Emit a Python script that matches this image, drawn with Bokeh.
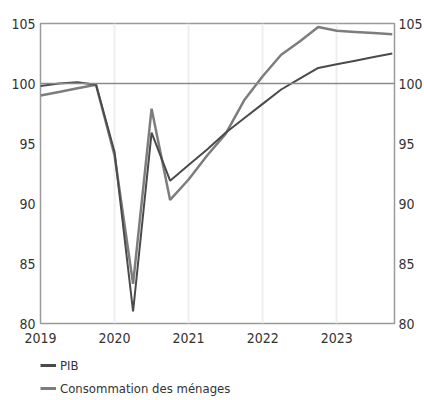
from bokeh.plotting import figure
from bokeh.layouts import column
from bokeh.models import LinearAxis, Span, Legend, LegendItem, FixedTicker, Range1d
from bokeh.embed import file_html
from bokeh.resources import INLINE

quarters = [2019.0, 2019.25, 2019.5, 2019.75, 2020.0, 2020.25, 2020.5, 2020.75,
            2021.0, 2021.25, 2021.5, 2021.75, 2022.0, 2022.25, 2022.5, 2022.75,
            2023.0, 2023.25, 2023.5, 2023.75]
pib = [99.8, 100.0, 100.1, 99.9, 94.3, 81.0, 95.9, 91.9, 93.2, 94.5,
       95.9, 97.1, 98.3, 99.5, 100.4, 101.3, 101.6, 101.9, 102.2, 102.5]
conso = [99.0, 99.3, 99.6, 99.9, 94.0, 83.3, 97.9, 90.3, 92.0, 94.0,
         95.8, 98.6, 100.6, 102.4, 103.5, 104.7, 104.4, 104.3, 104.2, 104.1]
year_ticks = [2019, 2020, 2021, 2022, 2023]
y_ticks = [80, 85, 90, 95, 100, 105]
labels = ["PIB", "Consommation des ménages"]

FONT = "DejaVu Sans Condensed"
PIB_COLOR, PIB_W = "#4a4a4a", 2
CONSO_COLOR, CONSO_W = "#7d7d7d", 2.5

p = figure(frame_width=354, frame_height=300, output_backend="svg", toolbar_location=None,
           x_range=Range1d(2019.0, 2023.78), y_range=Range1d(80, 105),
           min_border_left=40, min_border_right=30, min_border_top=23,
           min_border_bottom=25)

p.background_fill_color = "white"
p.outline_line_color = "#9a9a9a"
p.outline_line_width = 1.5

p.xgrid.grid_line_color = "#eeeeee"
p.xgrid.grid_line_width = 2
p.ygrid.grid_line_color = None

p.xaxis.ticker = FixedTicker(ticks=year_ticks)
p.yaxis.ticker = FixedTicker(ticks=y_ticks)

ry = LinearAxis(ticker=FixedTicker(ticks=y_ticks))
p.add_layout(ry, "right")

for ax in [p.xaxis[0], p.yaxis[0], ry]:
    ax.axis_line_color = None
    ax.major_tick_line_color = None
    ax.minor_tick_line_color = None
    ax.major_tick_out = 0
    ax.major_tick_in = 0
    ax.minor_tick_out = 0
    ax.major_label_text_font = FONT
    ax.major_label_text_font_size = "14px"
    ax.major_label_text_color = "#333333"
p.xaxis.major_label_standoff = 9
p.yaxis.major_label_standoff = 5
ry.major_label_standoff = 4

p.add_layout(Span(location=100, dimension="width", line_color="#8a8a8a", line_width=1.5))

p.line(quarters, conso, line_color=CONSO_COLOR, line_width=CONSO_W)
p.line(quarters, pib, line_color=PIB_COLOR, line_width=PIB_W)

# legend strip below the chart
lg = figure(width=424, height=52, output_backend="svg", toolbar_location=None,
            x_range=Range1d(0, 1), y_range=Range1d(0, 1),
            x_axis_location=None, y_axis_location=None,
            min_border=0, outline_line_color=None)
lg.grid.visible = False
nan = float("nan")
k_pib = lg.line(x=[nan], y=[nan], line_color=PIB_COLOR, line_width=PIB_W + 1)
k_conso = lg.line(x=[nan], y=[nan], line_color=CONSO_COLOR, line_width=CONSO_W + 0.5)
legend = Legend(items=[LegendItem(label=labels[0], renderers=[k_pib]),
                       LegendItem(label=labels[1], renderers=[k_conso])],
                orientation="vertical", location=(0, 4),
                label_text_font=FONT, label_text_font_size="13px",
                label_text_color="#333333",
                glyph_width=16, glyph_height=16, label_standoff=4,
                spacing=7, padding=0, margin=0,
                border_line_alpha=0, background_fill_alpha=0)
lg.add_layout(legend, "center")

open("out.html", "w").write(file_html(column(p, lg, spacing=0), INLINE))
